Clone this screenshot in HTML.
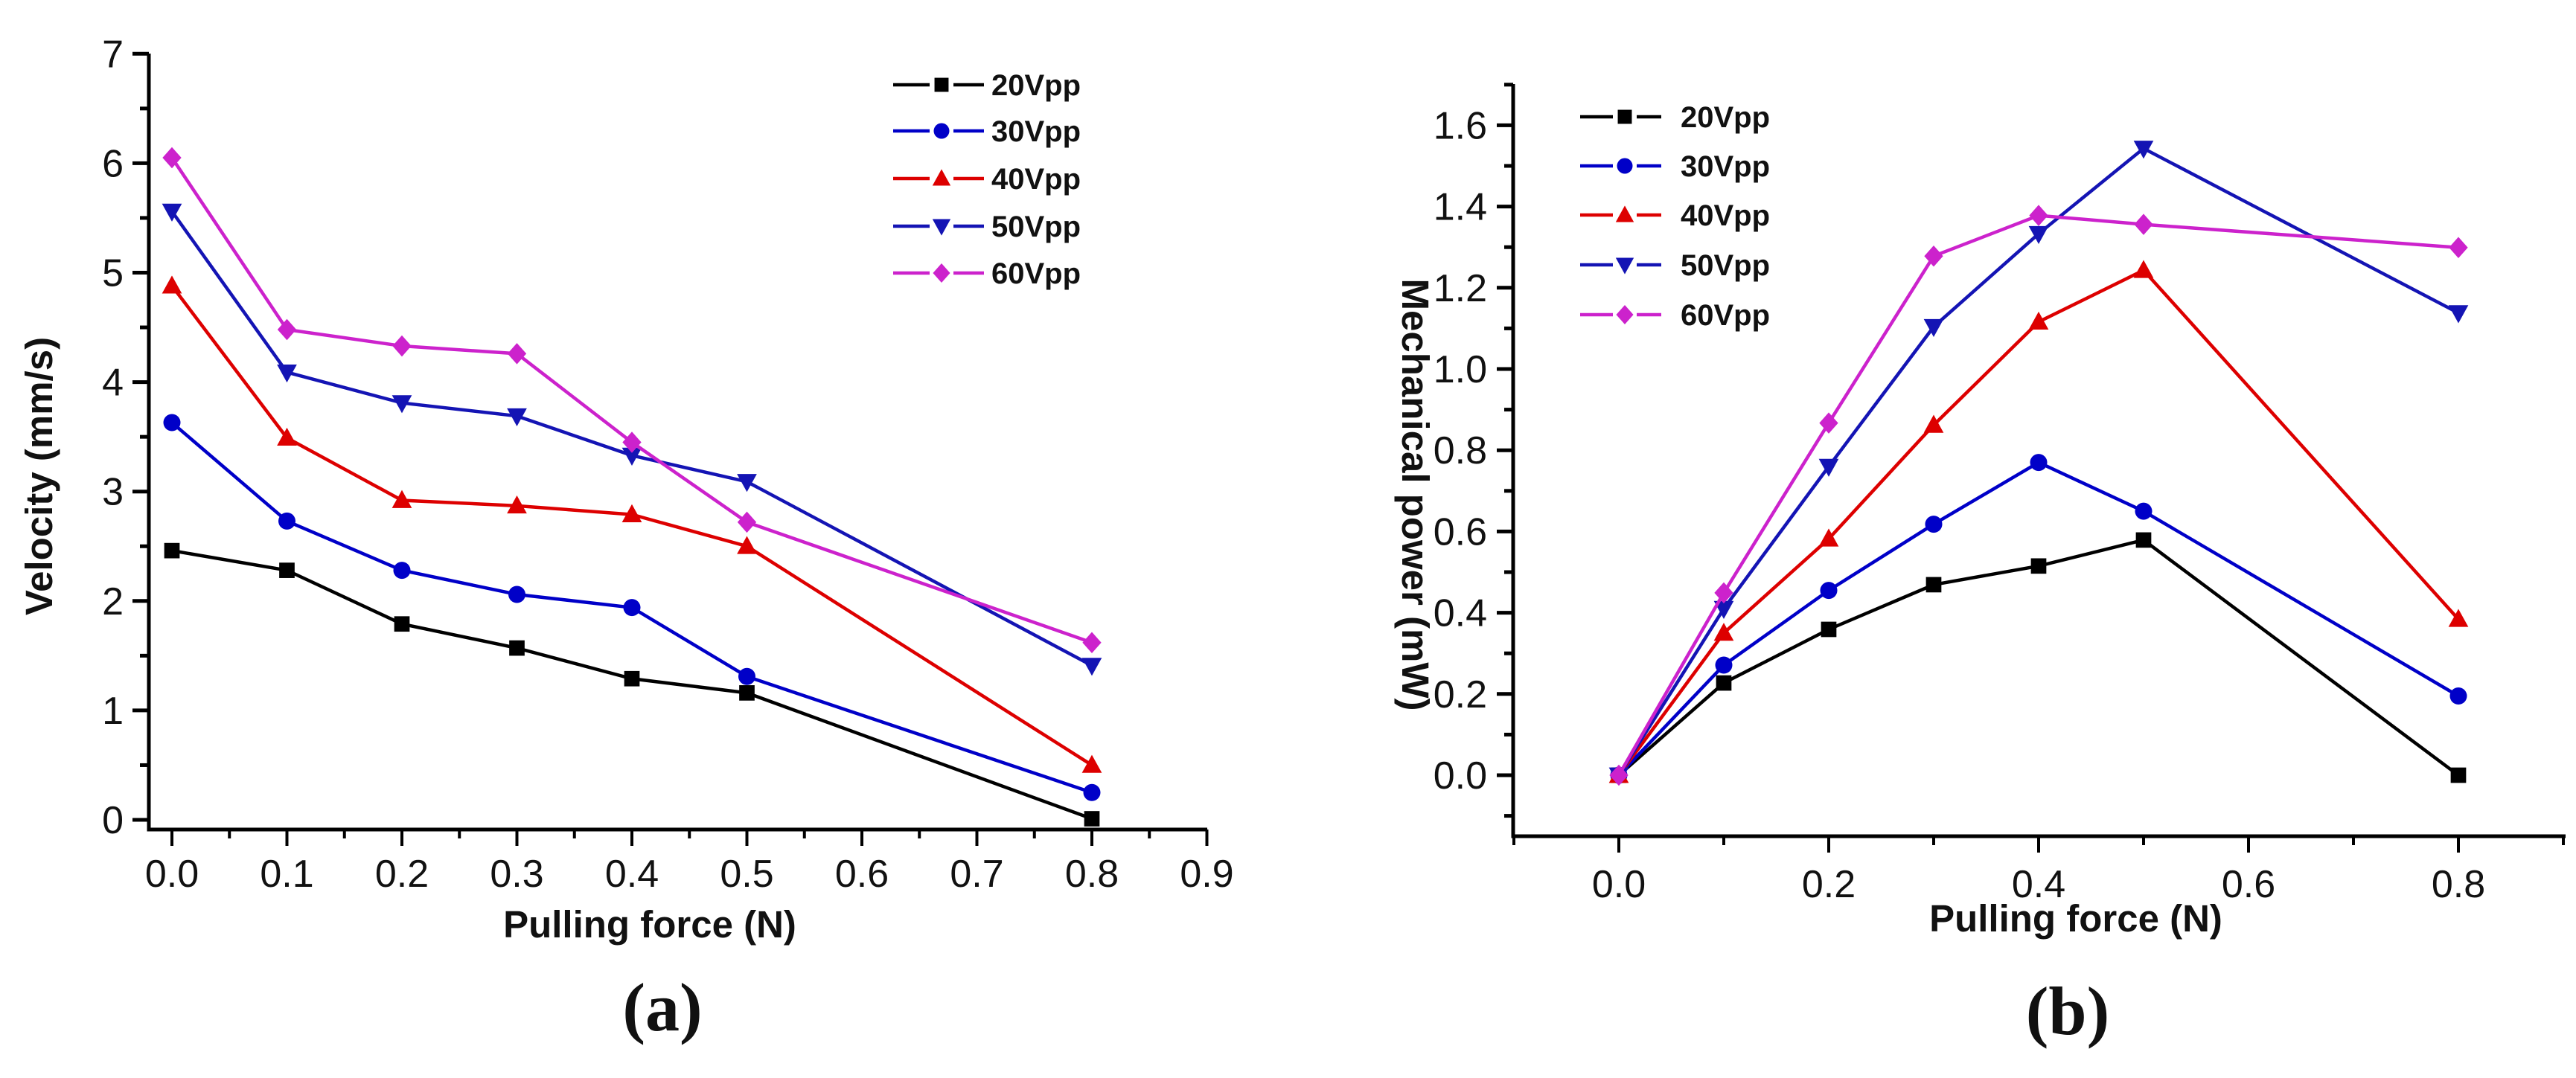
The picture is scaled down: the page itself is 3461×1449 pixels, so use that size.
<!DOCTYPE html>
<html><head><meta charset="utf-8"><style>
html,body{margin:0;padding:0;background:#fff;}
svg{display:block;}
text{font-family:"Liberation Sans",Arial,sans-serif;}
</style></head><body>
<svg id="root" width="3461" height="1449" viewBox="0 0 3461 1449" xmlns="http://www.w3.org/2000/svg"></svg>
<script>
const seriesNames = ["20Vpp","30Vpp","40Vpp","50Vpp","60Vpp"];
const seriesColors = ["#000000","#0000c8","#dd0000","#1414b4","#cc22cc"];
const seriesMarkers = ["square","circle","triangle","tridown","diamond"];
const forceX = [0.0,0.1,0.2,0.3,0.4,0.5,0.8];
const vel20 = [2.46,2.28,1.79,1.57,1.29,1.16,0.01];
const vel30 = [3.63,2.73,2.28,2.06,1.94,1.31,0.25];
const vel40 = [4.88,3.49,2.92,2.87,2.79,2.50,0.50];
const vel50 = [5.56,4.09,3.81,3.69,3.33,3.09,1.41];
const vel60 = [6.05,4.48,4.33,4.26,3.45,2.72,1.62];
const pow20 = [0,0.227,0.359,0.469,0.515,0.579,0.0];
const pow30 = [0,0.271,0.455,0.618,0.770,0.650,0.195];
const pow40 = [0,0.350,0.582,0.862,1.116,1.243,0.384];
const pow50 = [0,0.410,0.760,1.104,1.333,1.543,1.138];
const pow60 = [0,0.449,0.867,1.278,1.378,1.356,1.299];
const xTicksA = ["0.0","0.1","0.2","0.3","0.4","0.5","0.6","0.7","0.8","0.9"];
const yTicksA = ["0","1","2","3","4","5","6","7"];
const xTicksB = ["0.0","0.2","0.4","0.6","0.8"];
const yTicksB = ["0.0","0.2","0.4","0.6","0.8","1.0","1.2","1.4","1.6"];

const NS="http://www.w3.org/2000/svg";
const root=document.getElementById('root');
function mk(tag,attrs,parent){const e=document.createElementNS(NS,tag);for(const k in attrs)e.setAttribute(k,attrs[k]);(parent||root).appendChild(e);return e;}

function marker(g,type,cx,cy,col,s){
  let e;
  if(type==="square") e=mk('rect',{x:cx-s*0.45,y:cy-s*0.45,width:s*0.9,height:s*0.9,fill:col},g);
  else if(type==="circle") e=mk('circle',{cx:cx,cy:cy,r:s*0.5,fill:col},g);
  else if(type==="triangle") e=mk('polygon',{points:`${cx},${cy-s*0.6} ${cx-s*0.58},${cy+s*0.45} ${cx+s*0.58},${cy+s*0.45}`,fill:col},g);
  else if(type==="tridown") e=mk('polygon',{points:`${cx},${cy+s*0.6} ${cx-s*0.58},${cy-s*0.45} ${cx+s*0.58},${cy-s*0.45}`,fill:col},g);
  else e=mk('polygon',{points:`${cx},${cy-s*0.62} ${cx+s*0.55},${cy} ${cx},${cy+s*0.62} ${cx-s*0.55},${cy}`,fill:col},g);
  return e;
}

function panel(cfg){
  const g=mk('g',{});
  
  
  const sx=v=>cfg.x0+(v-cfg.xmin)*cfg.xs;
  const sy=v=>cfg.y0-(v-cfg.ymin)*cfg.ys;
  const ax=mk('path',{d:`M${cfg.axX},${cfg.axTop} L${cfg.axX},${cfg.axY} L${cfg.axRight},${cfg.axY}`,stroke:'#000','stroke-width':5,fill:'none'},g);
  
  
  for(let v=cfg.yMinorStart; v<=cfg.yMaxTick+1e-9; v+=cfg.yMinor){
    const major=Math.abs(v/cfg.yMajor-Math.round(v/cfg.yMajor))<1e-6;
    const y=sy(v);
    if(y<cfg.axTop-1||y>cfg.axY+1) continue;
    mk('line',{x1:cfg.axX,x2:cfg.axX-(major?22:12),y1:y,y2:y,stroke:'#000','stroke-width':5},g);
  }
  cfg.yLabels.forEach((t,i)=>{
    const v=parseFloat(t);
    const tx=mk('text',{x:cfg.yLabX,y:sy(v)+18,'text-anchor':'end','font-size':52,fill:'#111'},g);
    tx.textContent=t;
    
    
  });
  for(let v=cfg.xMinorStart; v<=cfg.xMaxTick+1e-9; v+=cfg.xMinor){
    const major=Math.abs(v/cfg.xMajor-Math.round(v/cfg.xMajor))<1e-6;
    const x=sx(v);
    mk('line',{x1:x,x2:x,y1:cfg.axY,y2:cfg.axY+(major?22:12),stroke:'#000','stroke-width':4},g);
  }
  cfg.xLabels.forEach(t=>{
    const v=parseFloat(t);
    const tx=mk('text',{x:sx(v),y:cfg.xLabY,'text-anchor':'middle','font-size':52,fill:'#111'},g);
    tx.textContent=t;
    
    
  });
  const xt=mk('text',{x:cfg.xtX,y:cfg.xtY,'text-anchor':'middle','font-size':51,'font-weight':'bold',fill:'#111'},g);
  xt.textContent='Pulling force (N)';
  
  
  const yt=mk('text',{x:0,y:0,'text-anchor':'middle','font-size':51,'font-weight':'bold',fill:'#111',transform:`translate(${cfg.ytX},${cfg.ytY}) rotate(${cfg.ytRot})`},g);
  yt.textContent=cfg.yTitle;
  
  
  const cap=mk('text',{x:cfg.capX,y:cfg.capY,'text-anchor':'middle','font-size':92,'font-weight':'bold',fill:'#111',style:'font-family:"Liberation Serif",serif'},g);
  cap.textContent=cfg.caption;
  
  
  cfg.series.forEach((vals,si)=>{
    const sg=mk('g',{},g);
    
    
    const pts=forceX.map((x,i)=>`${sx(x)},${sy(vals[i])}`).join(' ');
    mk('polyline',{points:pts,fill:'none',stroke:seriesColors[si],'stroke-width':4.5},sg);
    forceX.forEach((x,i)=>{
      const m=marker(sg,seriesMarkers[si],sx(x),sy(vals[i]),seriesColors[si],23);
      
      
    });
  });
  seriesNames.forEach((n,i)=>{
    const lg=mk('g',{},g);
    
    
    const y=cfg.legY[i];
    mk('line',{x1:cfg.legX1,x2:cfg.legX2,y1:y,y2:y,stroke:seriesColors[i],'stroke-width':4.5},lg);
    mk('rect',{x:cfg.legM-16,y:y-14,width:32,height:28,fill:'#fff'},lg);
    marker(lg,seriesMarkers[i],cfg.legM,y,seriesColors[i],21);
    const t=mk('text',{x:cfg.legT,y:y+14,'font-size':40,'font-weight':'bold',fill:'#111'},lg);
    t.textContent=n;
  });
}

panel({name:'velocity-chart',x0:231,xmin:0,xs:1545,y0:1102,ymin:0,ys:147.1,
  axX:200,axY:1115,axTop:72,axRight:1622,
  yMinorStart:0,yMinor:0.5,yMajor:1,yMaxTick:7,xMinorStart:0,xMinor:0.05,xMajor:0.1,xMaxTick:0.9,
  yLabels:yTicksA,xLabels:xTicksA,yLabX:166,xLabY:1192,
  xtX:873,xtY:1260,ytX:70,ytY:640,ytRot:-90,yTitle:'Velocity (mm/s)',
  capX:890,capY:1385,caption:'(a)',
  series:[vel20,vel30,vel40,vel50,vel60],
  legY:[114,176,240,304,367],legX1:1200,legX2:1322,legM:1265,legT:1332});

panel({name:'power-chart',x0:2175,xmin:0,xs:1410,y0:1042,ymin:0,ys:546,
  axX:2033,axY:1124,axTop:113,axRight:3447,
  yMinorStart:-0.1,yMinor:0.1,yMajor:0.2,yMaxTick:1.7,xMinorStart:-0.1,xMinor:0.1,xMajor:0.2,xMaxTick:0.9,
  yLabels:yTicksB,xLabels:xTicksB,yLabX:1998,xLabY:1206,
  xtX:2789,xtY:1252,ytX:1884,ytY:665,ytRot:90,yTitle:'Mechanical power (mW)',
  capX:2778,capY:1390,caption:'(b)',
  series:[pow20,pow30,pow40,pow50,pow60],
  legY:[157,223,289,356,423],legX1:2123,legX2:2232,legM:2183,legT:2258});
</script>
</body></html>
